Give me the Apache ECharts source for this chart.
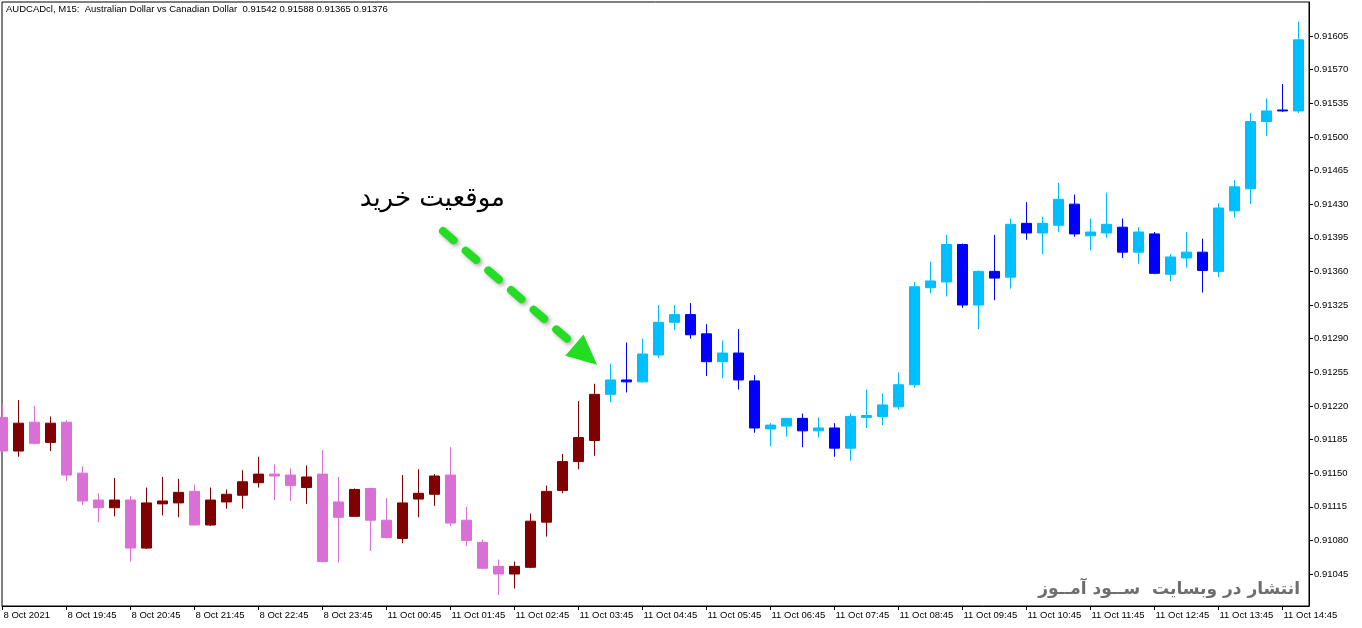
<!DOCTYPE html>
<html>
<head>
<meta charset="utf-8">
<script src="https://cdn.jsdelivr.net/npm/echarts@6/dist/echarts.min.js"></script>
<style>
html,body{margin:0;padding:0;background:#ffffff;}
#chart{width:1362px;height:628px;}
</style>
</head>
<body>
<div id="chart"></div>
<script>
// ---- Data (AUDCADcl, M15) ----
const opens = [
  0.91208,0.91173,0.91203,0.91182,0.91203,0.91150,0.91122,0.91114,0.91122,0.91072,
  0.91118,0.91119,0.91131,0.91096,0.91120,0.91127,0.91140,0.91149,0.91148,0.91135,
  0.91149,0.91120,0.91105,0.91134,0.91101,0.91082,0.91123,0.91128,0.91148,0.91101,
  0.91078,0.91053,0.91045,0.91052,0.91099,0.91132,0.91162,0.91184,0.91232,0.91247,
  0.91245,0.91273,0.91307,0.91315,0.91295,0.91266,0.91275,0.91246,0.91196,0.91199,
  0.91207,0.91194,0.91197,0.91176,0.91208,0.91209,0.91219,0.91242,0.91343,0.91349,
  0.91388,0.91325,0.91360,0.91354,0.91410,0.91400,0.91408,0.91430,0.91397,0.91400,
  0.91406,0.91380,0.91399,0.91357,0.91374,0.91380,0.91360,0.91423,0.91446,0.91516,
  0.91528,0.91527
];
const closes = [
  0.91173,0.91202,0.91181,0.91202,0.91148,0.91121,0.91114,0.91122,0.91072,0.91119,
  0.91121,0.91130,0.91096,0.91122,0.91128,0.91141,0.91149,0.91147,0.91137,0.91146,
  0.91058,0.91104,0.91133,0.91101,0.91083,0.91119,0.91129,0.91147,0.91098,0.91080,
  0.91051,0.91045,0.91053,0.91100,0.91131,0.91162,0.91187,0.91232,0.91247,0.91245,
  0.91274,0.91307,0.91315,0.91294,0.91266,0.91275,0.91247,0.91197,0.91200,0.91207,
  0.91194,0.91197,0.91176,0.91209,0.91210,0.91221,0.91242,0.91344,0.91350,0.91388,
  0.91325,0.91360,0.91353,0.91409,0.91400,0.91410,0.91435,0.91399,0.91401,0.91409,
  0.91380,0.91401,0.91358,0.91375,0.91380,0.91361,0.91426,0.91448,0.91516,0.91527,
  0.91527,0.91601
];
const lows = [
  0.91172,0.91167,0.91180,0.91173,0.91142,0.91117,0.91099,0.91105,0.91058,0.91071,
  0.91106,0.91104,0.91096,0.91095,0.91113,0.91113,0.91135,0.91122,0.91121,0.91118,
  0.91057,0.91057,0.91105,0.91069,0.91082,0.91077,0.91104,0.91116,0.91095,0.91074,
  0.91050,0.91023,0.91030,0.91051,0.91084,0.91129,0.91154,0.91168,0.91224,0.91234,
  0.91244,0.91270,0.91299,0.91290,0.91251,0.91249,0.91237,0.91192,0.91178,0.91188,
  0.91177,0.91187,0.91167,0.91163,0.91197,0.91200,0.91216,0.91239,0.91337,0.91334,
  0.91322,0.91300,0.91330,0.91342,0.91393,0.91378,0.91401,0.91396,0.91382,0.91395,
  0.91374,0.91368,0.91357,0.91350,0.91364,0.91338,0.91354,0.91416,0.91430,0.91501,
  0.91526,0.91525
];
const highs = [
  0.91221,0.91226,0.91220,0.91209,0.91205,0.91157,0.91129,0.91145,0.91126,0.91135,
  0.91146,0.91144,0.91138,0.91135,0.91133,0.91153,0.91167,0.91159,0.91155,0.91158,
  0.91174,0.91146,0.91134,0.91135,0.91124,0.91148,0.91154,0.91149,0.91177,0.91115,
  0.91081,0.91060,0.91058,0.91108,0.91137,0.91170,0.91225,0.91243,0.91264,0.91286,
  0.91290,0.91325,0.91325,0.91327,0.91305,0.91288,0.91300,0.91252,0.91202,0.91207,
  0.91212,0.91208,0.91202,0.91212,0.91237,0.91233,0.91255,0.91349,0.91370,0.91398,
  0.91389,0.91361,0.91398,0.91415,0.91432,0.91417,0.91452,0.91440,0.91415,0.91442,
  0.91415,0.91406,0.91401,0.91378,0.91401,0.91394,0.91431,0.91455,0.91525,0.91540,
  0.91555,0.91620
];
// bars before this index use the red/orchid scheme, from it on the blue scheme
const colorSwitchIndex = 38;

// one label every 4 bars (hourly)
const xTickLabels = [
  '8 Oct 2021','8 Oct 19:45','8 Oct 20:45','8 Oct 21:45','8 Oct 22:45','8 Oct 23:45',
  '11 Oct 00:45','11 Oct 01:45','11 Oct 02:45','11 Oct 03:45','11 Oct 04:45','11 Oct 05:45',
  '11 Oct 06:45','11 Oct 07:45','11 Oct 08:45','11 Oct 09:45','11 Oct 10:45','11 Oct 11:45',
  '11 Oct 12:45','11 Oct 13:45','11 Oct 14:45'
];
const xTickStep = 4;
const yTickLabels = [
  '0.91045','0.91080','0.91115','0.91150','0.91185','0.91220','0.91255','0.91290','0.91325',
  '0.91360','0.91395','0.91430','0.91465','0.91500','0.91535','0.91570','0.91605'
];
// annotation arrow: [bar index, price] start and end
const arrowStart = [27.53, 0.91402];
const arrowEnd = [36.45, 0.91273];

const titleText = 'AUDCADcl, M15:  Australian Dollar vs Canadian Dollar  0.91542 0.91588 0.91365 0.91376';
const signalText = 'موقعیت خرید';
const watermarkText = 'انتشار در وبسایت  ســود آمــوز';

// ---- Build ----
const dataA = [], dataB = [];
for (let i = 0; i < opens.length; i++) {
  const item = [i, opens[i], closes[i], lows[i], highs[i]];
  (i < colorSwitchIndex ? dataA : dataB).push(item);
}
const xTickValues = xTickLabels.map((_, k) => k * xTickStep);
const yTickValues = yTickLabels.map(Number);

const FONT = 'Liberation Sans';
const chart = echarts.init(document.getElementById('chart'), null, {renderer: 'canvas'});
chart.setOption({
  animation: false,
  backgroundColor: '#ffffff',
  grid: {left: 2, top: 2, right: 53, bottom: 22, show: true, borderColor: '#000', borderWidth: 1, backgroundColor: 'transparent'},
  xAxis: {
    type: 'value',
    min: -0.03125,
    max: 81.65625,
    splitLine: {show: false},
    axisLine: {show: true, onZero: false, lineStyle: {color: '#000', width: 1}},
    axisTick: {show: true, inside: false, length: 4, customValues: xTickValues, lineStyle: {color: '#000'}},
    axisLabel: {
      customValues: xTickValues,
      formatter: v => xTickLabels[Math.round(v / xTickStep)],
      align: 'left',
      margin: 4,
      padding: [0, 0, 0, 1],
      color: '#000',
      fontFamily: FONT,
      fontSize: 9.5
    }
  },
  yAxis: {
    type: 'value',
    position: 'right',
    min: 0.910117,
    max: 0.916404,
    scale: true,
    splitLine: {show: false},
    axisLine: {show: true, onZero: false, lineStyle: {color: '#000', width: 1}},
    axisTick: {show: true, inside: false, length: 4, customValues: yTickValues, lineStyle: {color: '#000'}},
    axisLabel: {
      customValues: yTickValues,
      formatter: v => v.toFixed(5),
      margin: 5,
      color: '#000',
      fontFamily: FONT,
      fontSize: 9.5
    }
  },
  series: [
    {
      type: 'candlestick',
      name: 'A',
      data: dataA,
      encode: {x: 0, y: [1, 2, 3, 4]},
      barWidth: 10,
      clip: true,
      itemStyle: {color: '#800000', color0: '#DA70D6', borderColor: '#800000', borderColor0: '#DA70D6', borderWidth: 1}
    },
    {
      type: 'candlestick',
      name: 'B',
      data: dataB,
      encode: {x: 0, y: [1, 2, 3, 4]},
      barWidth: 10,
      clip: true,
      itemStyle: {color: '#00BFFF', color0: '#0000FF', borderColor: '#00BFFF', borderColor0: '#0000FF', borderWidth: 1}
    },
    {
      type: 'line',
      name: 'arrow',
      data: [],
      markLine: {
        silent: true,
        symbol: ['none', 'triangle'],
        symbolSize: [28, 30],
        label: {show: false},
        lineStyle: {
          color: '#22DD22', width: 8, type: [14, 16], cap: 'round',
          shadowColor: 'rgba(0,0,0,0.35)', shadowBlur: 4, shadowOffsetX: 2, shadowOffsetY: 2
        },
        emphasis: {disabled: true},
        data: [[{coord: arrowStart}, {coord: arrowEnd}]]
      }
    }
  ],
  graphic: [
    {type: 'text', x: 6, y: 4, style: {text: titleText, font: '9.5px "Liberation Sans"', fill: '#000'}},
    {type: 'text', x: 505, y: 199, style: {text: signalText, font: '26px "DejaVu Sans"', fill: '#000', align: 'right', verticalAlign: 'middle'}},
    {type: 'text', x: 1300, y: 590, style: {text: watermarkText, font: 'bold 17px "DejaVu Sans"', fill: '#6e6e6e', align: 'right', verticalAlign: 'middle'}}
  ]
});
</script>
</body>
</html>
